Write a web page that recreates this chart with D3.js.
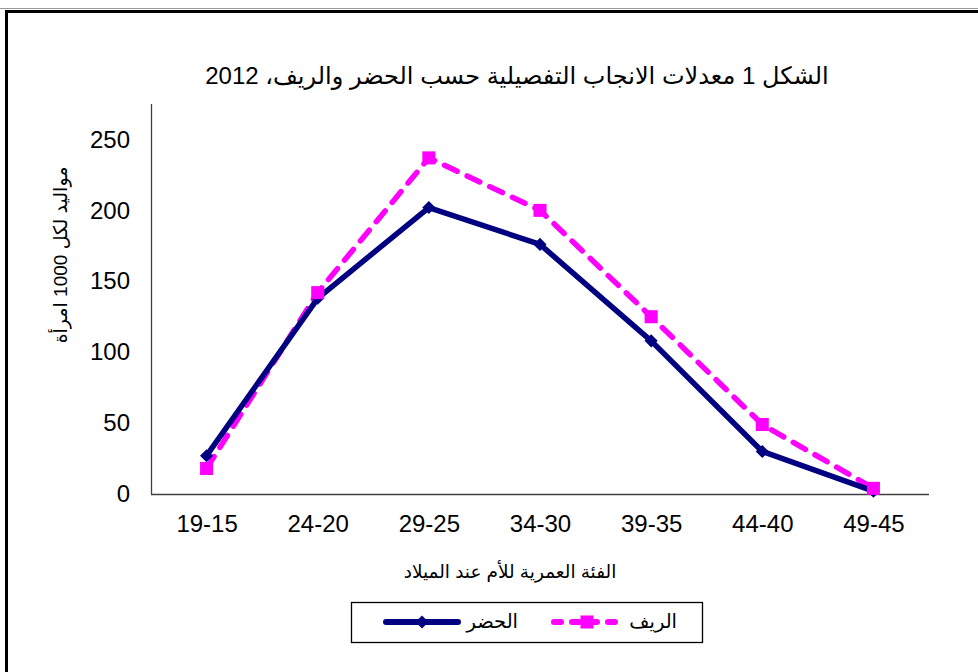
<!DOCTYPE html>
<html lang="ar">
<head>
<meta charset="utf-8">
<script src="https://cdn.jsdelivr.net/npm/d3@7"></script>
<style>
    html, body { margin: 0; padding: 0; background: #fff; }
    #chart-tfr { width: 978px; height: 672px; }
    text { font-family: "Liberation Sans", Arial, "DejaVu Sans", sans-serif; fill: #000; }
</style>
</head>
<body>
<div id="chart-tfr"></div>
<script>
(function () {

    var CONTAINER = "chart-tfr";

    var CATEGORIES = ["19-15", "24-20", "29-25", "34-30", "39-35", "44-40", "49-45"];
    var URBAN      = [27, 138, 202, 176, 108, 30, 2];
    var RURAL      = [18, 142, 237, 200, 125, 49, 4];
    var Y_TICKS    = [0, 50, 100, 150, 200, 250];

    var TITLE   = "الشكل 1 معدلات الانجاب التفصيلية حسب الحضر والريف، 2012";
    var Y_LABEL = "مواليد لكل 1000 امرأة";
    var X_LABEL = "الفئة العمرية للأم عند الميلاد";

    var SERIES = [
        { name: "الحضر", values: URBAN, color: "#000080", dash: null,    marker: "diamond" },
        { name: "الريف", values: RURAL, color: "#ff00ff", dash: "14 11", marker: "square"  }
    ];

    /* ── init ─────────────────────────────────────────────────────── */
    var W = 978, H = 672;
    var margin = { top: 104, right: 49, bottom: 178, left: 151 };
    var iW = W - margin.left - margin.right;
    var iH = H - margin.top - margin.bottom;

    var root = d3.select("#" + CONTAINER)
        .append("svg")
        .attr("width", W)
        .attr("height", H);

    // outer frame (page border, partly cut off)
    root.append("line")
        .attr("x1", 0).attr("x2", W)
        .attr("y1", 8.5).attr("y2", 8.5)
        .attr("stroke", "#999").attr("stroke-width", 1);
    root.append("path")
        .attr("d", "M6.5," + H + "V11.5H" + (W + 4))
        .attr("fill", "none")
        .attr("stroke", "#000")
        .attr("stroke-width", 3);

    // title
    root.append("text")
        .attr("x", 517).attr("y", 84)
        .attr("text-anchor", "middle")
        .attr("direction", "rtl")
        .style("font-size", "24px")
        .text(TITLE);

    var svg = root.append("g")
        .attr("transform", "translate(" + margin.left + "," + margin.top + ")");

    /* scales */
    var xScale = d3.scalePoint()
        .domain(CATEGORIES)
        .range([0, iW])
        .padding(0.5);

    var yScale = d3.scaleLinear()
        .domain([0, 275])
        .range([iH, 0]);

    /* axes */
    var xAxis = svg.append("g")
        .attr("class", "axis axis-x")
        .attr("transform", "translate(0," + iH + ")")
        .call(d3.axisBottom(xScale).tickSize(0).tickPadding(21));

    var yAxis = svg.append("g")
        .attr("class", "axis axis-y")
        .call(d3.axisLeft(yScale).tickValues(Y_TICKS).tickSize(0).tickPadding(21));

    xAxis.select(".domain").attr("d", "M0,0.5H" + iW);
    yAxis.select(".domain").attr("d", "M0.5,0V" + iH);

    svg.selectAll(".axis .domain")
        .attr("stroke", "#404040")
        .attr("stroke-width", 1.3);
    svg.selectAll(".axis text")
        .style("font-family", "'Liberation Sans', Arial, sans-serif")
        .style("font-size", "24px")
        .attr("fill", "#000");

    // axis labels
    svg.append("text")
        .attr("transform", "rotate(-90)")
        .attr("x", -151)
        .attr("y", -84)
        .attr("text-anchor", "middle")
        .attr("direction", "rtl")
        .style("font-size", "19px")
        .text(Y_LABEL);

    svg.append("text")
        .attr("x", iW / 2 - 30)
        .attr("y", iH + 84)
        .attr("text-anchor", "middle")
        .attr("direction", "rtl")
        .style("font-size", "18.5px")
        .text(X_LABEL);

    /* lines */
    var line = d3.line()
        .x(function (d, i) { return xScale(CATEGORIES[i]); })
        .y(function (d) { return yScale(d); });

    var diamond = d3.symbol().type(d3.symbolDiamond2).size(110);
    var square  = d3.symbol().type(d3.symbolSquare).size(170);

    // rural drawn first, urban on top except markers
    [SERIES[1], SERIES[0]].forEach(function (s) {
        svg.append("path")
            .datum(s.values)
            .attr("d", line)
            .attr("fill", "none")
            .attr("stroke", s.color)
            .attr("stroke-width", 5.5)
            .attr("stroke-linecap", s.dash ? "round" : "butt")
            .attr("stroke-linejoin", "round")
            .attr("stroke-dasharray", s.dash);
    });

    SERIES.forEach(function (s) {
        svg.append("g")
            .selectAll("path")
            .data(s.values)
            .enter()
            .append("path")
            .attr("transform", function (d, i) {
                return "translate(" + xScale(CATEGORIES[i]) + "," + yScale(d) + ")";
            })
            .attr("d", s.marker === "diamond" ? diamond : square)
            .attr("fill", s.color);
    });

    /* legend */
    var legend = root.append("g").attr("class", "chart-legend");
    legend.append("rect")
        .attr("x", 351.5).attr("y", 602.5)
        .attr("width", 351).attr("height", 40)
        .attr("fill", "#fff")
        .attr("stroke", "#000")
        .attr("stroke-width", 1.3);

    var legendPos = [
        { x1: 386, x2: 458, tx: 518 },
        { x1: 554, x2: 620, tx: 677 }
    ];

    SERIES.forEach(function (s, i) {
        var p  = legendPos[i];
        var cy = 622;
        legend.append("line")
            .attr("x1", p.x1).attr("x2", p.x2)
            .attr("y1", cy).attr("y2", cy)
            .attr("stroke", s.color)
            .attr("stroke-width", 6)
            .attr("stroke-linecap", "round")
            .attr("stroke-dasharray", s.dash ? "7 11" : null);
        legend.append("path")
            .attr("transform", "translate(" + ((p.x1 + p.x2) / 2) + "," + cy + ")")
            .attr("d", s.marker === "diamond" ? diamond : square)
            .attr("fill", s.color);
        legend.append("text")
            .attr("x", p.tx).attr("y", cy + 6)
            .attr("text-anchor", "end")
            .style("font-size", "19.5px")
            .text(s.name);
    });

}());
</script>
</body>
</html>
